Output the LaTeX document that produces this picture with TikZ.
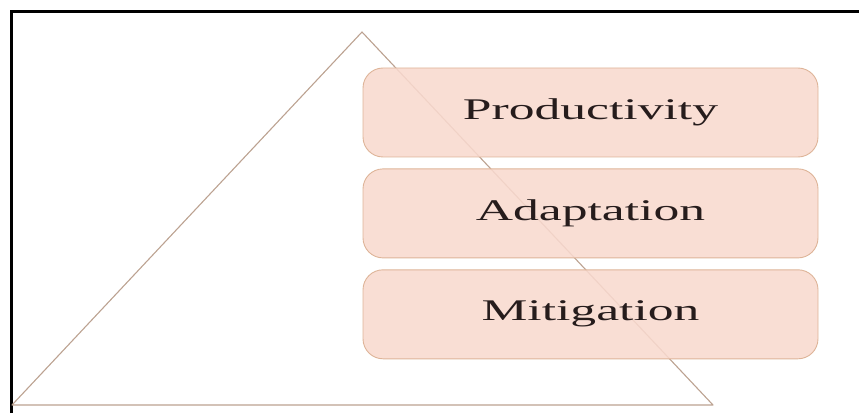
\documentclass[tikz,border=0pt]{standalone}
\usepackage{fontspec}
\setmainfont{Liberation Serif}
\usepackage{tikz}
\usetikzlibrary{positioning}

\definecolor{boxfill}{RGB}{248,217,206}
\definecolor{boxline}{RGB}{222,180,152}
\definecolor{triline}{RGB}{188,162,145}
\definecolor{labeltext}{RGB}{38,28,28}

\begin{document}
\begin{tikzpicture}[x=1pt,y=1pt,
                   layer/.style={draw=boxline,line width=0.9pt,fill=boxfill,
                     fill opacity=0.88,text opacity=1,rounded corners=20pt,
                     minimum width=455pt,minimum height=89pt,
                     text=labeltext,font=\fontsize{30}{36}\selectfont},
                   node distance=11pt]
\useasboundingbox (0,0) rectangle (859,413);
% frame
\draw[line width=3pt] (11,0) -- (11,401) -- (859,401);
% pyramid
\coordinate (L) at (12,8);
\coordinate (R) at (713,8);
\coordinate (T) at (362,381);
\draw[triline,line width=1.1pt,line join=round] (L) -- (T) -- (R) -- cycle;
% levels
\node[layer] (prod) at (590.5,300.5) {\scalebox{1.72}[1]{Productivity}};
\node[layer] (adapt) [below=of prod] {\scalebox{1.72}[1]{Adaptation}};
\node[layer] (mitig) [below=of adapt] {\scalebox{1.72}[1]{Mitigation}};
\end{tikzpicture}
\end{document}
